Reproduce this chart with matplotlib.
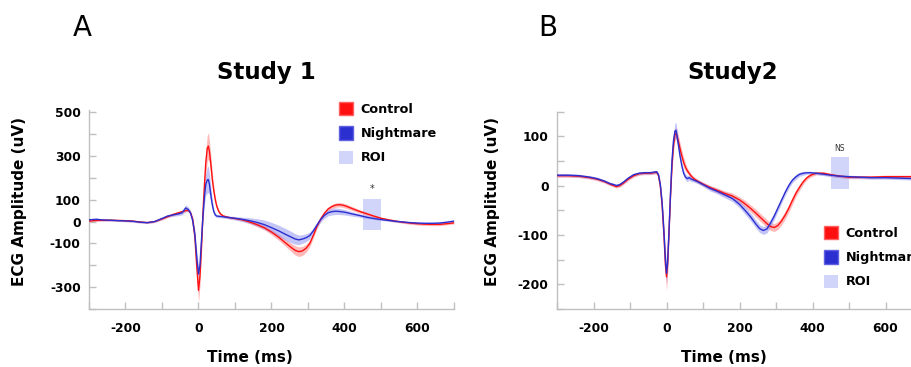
import numpy as np
import matplotlib
matplotlib.use("Agg")
import matplotlib.pyplot as plt
from matplotlib.patches import Patch

# ---------------- Study 1 data ----------------
t1 = [-300, -280, -260, -240, -220, -200, -180, -160, -140, -120, -100, -85, -70, -55, -45, -35,
      -28, -22, -16, -10, -5, 0, 4, 8, 12, 16, 20, 24, 27, 30, 34, 38, 42, 46, 50, 55, 60, 67,
      75, 85, 100, 120, 140, 160, 180, 200, 220, 240, 255, 265, 275, 285, 295, 305, 315, 325,
      335, 345, 355, 365, 375, 385, 395, 405, 420, 440, 460, 480, 500, 520, 540, 560, 580, 600,
      620, 640, 660, 680, 700]
ctrl1 = [2, 5, 6, 6, 5, 4, 2, -2, -5, 0, 12, 22, 32, 40, 45, 50,
         52, 40, 10, -70, -200, -315, -250, -120, 30, 160, 270, 335, 345, 320, 260, 190, 140, 100, 70, 48, 35, 26,
         22, 18, 14, 8, -2, -14, -28, -48, -72, -100, -120, -132, -138, -134, -122, -100, -62, -20,
         12, 38, 57, 68, 75, 77, 75, 70, 60, 47, 36, 25, 15, 8, 2, -3, -7, -10,
         -12, -13, -13, -10, -6]
nm1 = [8, 10, 7, 6, 4, 3, 1, -3, -5, 0, 14, 25, 30, 35, 40, 62,
       55, 40, 5, -60, -160, -240, -200, -90, 20, 110, 170, 190, 192, 170, 120, 75, 45, 30, 25, 24, 23, 22,
       20, 18, 15, 10, 4, -4, -14, -28, -43, -60, -72, -80, -84, -80, -74, -64, -42, -15,
       10, 28, 40, 45, 47, 46, 44, 41, 35, 28, 20, 14, 9, 5, 1, -2, -5, -7,
       -8, -8, -7, -3, 2]
ctrl1_sem = [4, 4, 4, 4, 4, 4, 4, 4, 4, 4, 5, 5, 6, 6, 6, 6,
             6, 8, 15, 30, 45, 55, 45, 35, 30, 40, 55, 60, 60, 50, 40, 30, 22, 15, 10, 8, 7, 6,
             5, 5, 5, 6, 7, 9, 10, 12, 14, 16, 19, 21, 22, 21, 18, 15, 12, 10,
             9, 9, 10, 10, 10, 10, 10, 10, 9, 8, 7, 6, 5, 5, 5, 5, 6, 6,
             6, 6, 6, 5, 5]
nm1_sem = [5, 6, 4, 4, 4, 4, 4, 4, 4, 4, 5, 5, 6, 8, 10, 14,
           12, 8, 10, 20, 28, 30, 28, 25, 25, 35, 50, 60, 60, 50, 35, 20, 12, 8, 7, 6, 6, 6,
           6, 7, 8, 10, 13, 17, 21, 24, 26, 27, 26, 24, 22, 20, 18, 16, 14, 12,
           12, 13, 14, 15, 15, 14, 13, 12, 10, 8, 6, 5, 4, 4, 4, 4, 4, 4,
           4, 4, 4, 4, 4]

# ---------------- Study 2 data ----------------
t2 = [-300, -270, -240, -210, -190, -170, -155, -145, -137, -128, -118, -105, -90, -75, -60, -45,
      -35, -27, -22, -17, -12, -7, -3, 0, 3, 7, 11, 15, 19, 23, 26, 29, 33, 37, 42, 47, 52, 57,
      62, 68, 75, 85, 100, 120, 140, 160, 180, 200, 215, 230, 245, 255, 265, 275, 285, 295, 305,
      315, 325, 335, 345, 355, 365, 375, 385, 395, 410, 430, 450, 475, 500, 530, 560, 600, 640,
      680, 700]
ctrl2 = [20, 20, 19, 16, 13, 8, 3, 0, -2, 0, 5, 13, 20, 24, 25, 25,
         26, 27, 20, 0, -40, -100, -160, -185, -160, -90, -20, 40, 80, 103, 106, 100, 88, 75, 60, 47, 37, 30,
         25, 19, 14, 9, 3, -4, -10, -16, -21, -29, -37, -46, -56, -63, -70, -77, -83, -85, -81,
         -72, -60, -46, -30, -15, -3, 8, 16, 21, 25, 25, 22, 19, 17, 17, 17, 18, 18,
         18, 17]
nm2 = [21, 21, 20, 17, 14, 9, 4, 2, 0, 2, 7, 15, 22, 25, 26, 26,
       27, 28, 22, 2, -35, -95, -150, -178, -155, -90, -15, 50, 90, 110, 112, 100, 80, 60, 40, 25, 17, 14,
       16, 13, 11, 8, 2, -6, -12, -19, -26, -38, -50, -63, -78, -87, -91, -88, -76, -62, -46,
       -30, -14, 0, 11, 18, 23, 25, 26, 26, 25, 23, 21, 19, 18, 17, 16, 16, 15,
       14, 14]
ctrl2_sem = [3, 3, 3, 3, 3, 3, 3, 3, 3, 3, 3, 3, 3, 3, 3, 3,
             3, 3, 4, 6, 10, 15, 22, 28, 22, 15, 10, 10, 12, 12, 12, 12, 12, 12, 11, 10, 8, 6,
             5, 4, 4, 4, 4, 4, 5, 5, 6, 6, 7, 7, 8, 8, 8, 8, 8, 8, 8,
             8, 8, 8, 8, 7, 6, 5, 4, 4, 3, 3, 3, 3, 3, 3, 3, 3, 3,
             3, 3]
nm2_sem = [3, 3, 3, 3, 3, 3, 3, 3, 3, 3, 3, 3, 3, 3, 3, 3,
           3, 3, 4, 6, 10, 14, 18, 20, 18, 14, 10, 10, 14, 16, 16, 12, 10, 8, 7, 6, 6, 6,
           5, 5, 4, 4, 4, 5, 5, 6, 6, 7, 8, 8, 8, 8, 8, 8, 8, 7, 7,
           6, 6, 6, 5, 5, 4, 4, 3, 3, 3, 3, 3, 3, 3, 3, 3, 3, 3,
           3, 3]

roi_t = [450, 500]
roi1_y = [-38, 105]
roi2_y = [-7, 58]
yticks1 = [-400, -300, -200, -100, 0, 100, 200, 300, 400, 500]
yticklabels1 = ["", "-300", "", "-100", "0", "100", "", "300", "", "500"]
yticks2 = [-250, -200, -150, -100, -50, 0, 50, 100, 150]
yticklabels2 = ["", "-200", "", "-100", "", "0", "", "100", ""]
xticks = [-300, -200, -100, 0, 100, 200, 300, 400, 500, 600, 700]
xticklabels = ["", "-200", "", "0", "", "200", "", "400", "", "600", ""]

RED = "#ff1010"
BLUE = "#2b2fd0"
RED_F = "#ff8080"
BLUE_F = "#8a8cf0"
ROI_C = "#d2d5fa"

plt.rcParams['font.family'] = ['DejaVu Sans']
W, H = 912, 367
fig = plt.figure(figsize=(W / 100, H / 100), dpi=100)

def px_axes(x0, x1, y0, y1):
    return fig.add_axes([x0 / W, 1 - y1 / H, (x1 - x0) / W, (y1 - y0) / H])

ax1 = px_axes(89, 454, 110, 309)
ax2 = px_axes(557, 922, 111.5, 309)

def draw(ax, t, c, n, cs, ns, ylim, yt, ytl, roi_y):
    t = np.array(t); c = np.array(c, float); n = np.array(n, float)
    cs = np.array(cs, float); ns = np.array(ns, float)
    ax.add_patch(plt.Rectangle((roi_t[0], roi_y[0]), roi_t[1] - roi_t[0], roi_y[1] - roi_y[0],
                               facecolor=ROI_C, edgecolor='none', zorder=1))
    ax.fill_between(t, c - cs, c + cs, color=RED_F, alpha=0.55, lw=0, zorder=2)
    ax.fill_between(t, n - ns, n + ns, color=BLUE_F, alpha=0.5, lw=0, zorder=3)
    ax.plot(t, c, color=RED, lw=1.0, zorder=4)
    ax.plot(t, n, color=BLUE, lw=1.0, zorder=5)
    ax.set_xlim(-300, 700)
    ax.set_ylim(*ylim)
    ax.set_yticks(yt)
    ax.set_yticklabels(ytl)
    ax.set_xticks(xticks)
    ax.set_xticklabels(xticklabels)
    for s in ['top', 'right']:
        ax.spines[s].set_visible(False)
    for s in ['left', 'bottom']:
        ax.spines[s].set_color('#c0c0c0')
        ax.spines[s].set_linewidth(1.0)
    ax.tick_params(axis='y', direction='in', length=5, color='#c0c0c0', width=1.0,
                   labelsize=8.8, pad=6)
    ax.tick_params(axis='x', direction='in', length=5, color='#c0c0c0', width=1.0,
                   labelsize=8.8, pad=9)
    for lbl in ax.get_xticklabels() + ax.get_yticklabels():
        lbl.set_fontweight('bold')
    return ax

draw(ax1, t1, ctrl1, nm1, ctrl1_sem, nm1_sem, (-400, 510), yticks1, yticklabels1, roi1_y)
draw(ax2, t2, ctrl2, nm2, ctrl2_sem, nm2_sem, (-250, 150), yticks2, yticklabels2, roi2_y)

ax1.text(475, 150, "*", ha='center', va='center', fontsize=7, color='#333333')
ax2.text(475, 75, "NS", ha='center', va='center', fontsize=5.5, color='#333333')

handles = [Patch(facecolor=RED, edgecolor='#ff6060', label='Control'),
           Patch(facecolor=BLUE, edgecolor='#6060e0', label='Nightmare'),
           Patch(facecolor=ROI_C, edgecolor='none', label='ROI')]
for ax, (lx, ly) in ((ax1, (333, 96)), (ax2, (818, 220))):
    ax.legend(handles=handles, loc='upper left', bbox_to_anchor=(lx / W, 1 - ly / H),
              bbox_transform=fig.transFigure, frameon=False, borderpad=0,
              handlelength=1.1, handleheight=1.2, handletextpad=0.55, labelspacing=0.8,
              prop={'weight': 'bold', 'size': 9.2})

fig.text(266 / W, 1 - 72 / H, "Study 1", ha='center', va='center', fontsize=16.5, fontweight='bold')
fig.text(733 / W, 1 - 72 / H, "Study2", ha='center', va='center', fontsize=16.5, fontweight='bold')
fig.text(82 / W, 1 - 28 / H, "A", ha='center', va='center', fontsize=20)
fig.text(548 / W, 1 - 28 / H, "B", ha='center', va='center', fontsize=20)
fig.text(20 / W, 1 - 201 / H, "ECG Amplitude (uV)", rotation=90, ha='center', va='center',
         fontsize=11, fontweight='bold')
fig.text(493 / W, 1 - 201 / H, "ECG Amplitude (uV)", rotation=90, ha='center', va='center',
         fontsize=11, fontweight='bold')
fig.text(250 / W, 1 - 357 / H, "Time (ms)", ha='center', va='center', fontsize=11, fontweight='bold')
fig.text(724 / W, 1 - 357 / H, "Time (ms)", ha='center', va='center', fontsize=11, fontweight='bold')

fig.savefig("out.png", dpi=100)
